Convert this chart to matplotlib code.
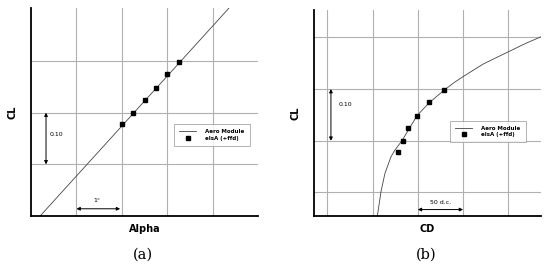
import matplotlib.pyplot as plt

# (a) CL vs Alpha
alpha_line = [0.2, 4.35]
cl_line = [0.0, 0.402]
alpha_els = [2.0, 2.25, 2.5, 2.75, 3.0, 3.25]
cl_els = [0.179, 0.200, 0.224, 0.248, 0.274, 0.298]

# (b) CL vs CD
cd_line = [0.02553, 0.02593, 0.02637, 0.02704, 0.02748, 0.02825, 0.02991,
           0.03127, 0.03293, 0.03411, 0.03500, 0.03724, 0.04000, 0.04184,
           0.04360]
cl_polar = [0.0545, 0.1015, 0.1371, 0.1692, 0.1822, 0.2001, 0.2485,
            0.2737, 0.2982, 0.3137, 0.3240, 0.3485, 0.3720, 0.3876,
            0.4010]
cd_els = [0.02778, 0.02834, 0.02895, 0.02995, 0.03127, 0.03293]

GRID = '#b0b0b0'


def style_axes(ax):
    for s in ('top', 'right'):
        ax.spines[s].set_visible(False)
    for s in ('left', 'bottom'):
        ax.spines[s].set_linewidth(1.3)
    ax.tick_params(length=0, labelbottom=False, labelleft=False)
    ax.grid(True, color=GRID, linewidth=0.8)
    ax.set_axisbelow(True)


def arrow(ax, p0, p1):
    ax.annotate('', xy=p1, xytext=p0,
                arrowprops=dict(arrowstyle='<|-|>', color='black', lw=0.7,
                                mutation_scale=5, shrinkA=0, shrinkB=0))


def add_legend(ax, center):
    leg = ax.legend(loc='center', bbox_to_anchor=center,
                    frameon=True, fancybox=False, handlelength=3.0,
                    handletextpad=1.7, borderpad=0.9, labelspacing=0.3,
                    prop={'size': 4, 'weight': 'bold'})
    leg.get_frame().set_edgecolor('#909090')
    leg.get_frame().set_linewidth(0.6)


fig = plt.figure(figsize=(5.5, 2.68), dpi=100)

ax1 = fig.add_axes([0.0564, 0.194, 0.4133, 0.775])
style_axes(ax1)
ax1.plot(alpha_line, cl_line, color='#444444', lw=0.6, label='Aero Module')
ax1.plot(alpha_els, cl_els, 's', color='black', ms=3.2, label='elsA (+ffd)')
ax1.set_xlim(0, 5)
ax1.set_ylim(0, 0.402)
ax1.set_xticks([1, 2, 3, 4])
ax1.set_yticks([0.1, 0.2, 0.3])
arrow(ax1, (0.33, 0.1), (0.33, 0.2))
ax1.text(0.4, 0.158, '0.10', fontsize=4.5, va='center')
arrow(ax1, (1.0, 0.014), (1.96, 0.014))
ax1.text(1.45, 0.03, '1°', fontsize=4.5, ha='center', va='center')
add_legend(ax1, (0.796, 0.39))
ax1.set_xlabel('Alpha', fontsize=7, fontweight='bold', labelpad=6)
ax1.set_ylabel('CL', fontsize=7, fontweight='bold', labelpad=10)
fig.text(0.26, 0.048, '(a)', fontsize=10.5, family='DejaVu Serif',
         ha='center', va='center')

ax2 = fig.add_axes([0.5715, 0.194, 0.4116, 0.769])
style_axes(ax2)
ax2.plot(cd_line, cl_polar, color='#444444', lw=0.6, label='Aero Module')
ax2.plot(cd_els, cl_els, 's', color='black', ms=3.2, label='elsA (+ffd)')
ax2.set_xlim(0.018565, 0.04358)
ax2.set_ylim(0.0545, 0.453)
ax2.set_xticks([0.020, 0.025, 0.030, 0.035, 0.040])
ax2.set_yticks([0.1, 0.2, 0.3, 0.4])
arrow(ax2, (0.0204, 0.3), (0.0204, 0.2))
ax2.text(0.0212, 0.27, '0.10', fontsize=4.5, va='center')
arrow(ax2, (0.030, 0.067), (0.035, 0.067))
ax2.text(0.0325, 0.08, '50 d.c.', fontsize=4.5, ha='center', va='center')
add_legend(ax2, (0.767, 0.41))
ax2.set_xlabel('CD', fontsize=7, fontweight='bold', labelpad=6)
ax2.set_ylabel('CL', fontsize=7, fontweight='bold', labelpad=10)
fig.text(0.775, 0.048, '(b)', fontsize=10.5, family='DejaVu Serif',
         ha='center', va='center')

fig.savefig('out.png', dpi=100)
